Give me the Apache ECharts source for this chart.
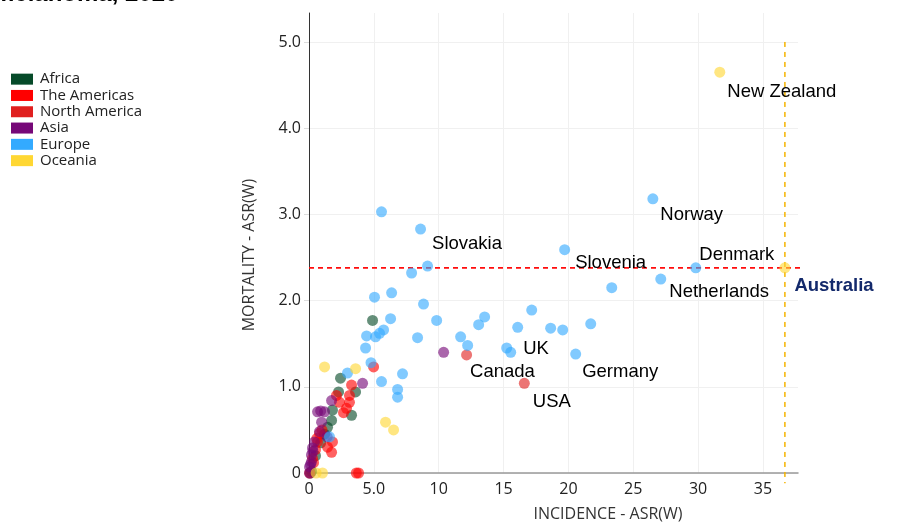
<!DOCTYPE html>
<html>
<head>
<meta charset="utf-8">
<script src="https://cdn.jsdelivr.net/npm/echarts@6/dist/echarts.min.js"></script>
<style>html,body{margin:0;padding:0;background:#fff}#c{width:914px;height:522px}</style>
</head>
<body>
<div id="c"></div>
<script>
// ---- data (incidence ASR(W), mortality ASR(W)) ----
const regions = ['Africa', 'The Americas', 'North America', 'Asia', 'Europe', 'Oceania'];
const africa = [[4.90,1.77],[2.43,1.10],[3.59,0.94],[2.28,0.94],[3.28,0.67],[1.81,0.73],[1.74,0.61],[1.43,0.53],[1.20,0.45],[0.90,0.35],[0.50,0.20],[0.10,0.00],[0.20,0.02]];
const americas = [[4.98,1.23],[3.82,0.00],[3.65,0.00],[3.28,1.02],[3.12,0.90],[2.12,0.90],[3.12,0.82],[2.35,0.82],[2.89,0.75],[2.66,0.70],[0.81,0.46],[1.81,0.36],[1.43,0.30],[1.74,0.24],[0.66,0.36],[0.50,0.27],[0.27,0.17],[0.35,0.12],[1.00,0.50],[0.60,0.40],[0.05,0.00]];
const northAmerica = [];
const asia = [[10.38,1.40],[4.13,1.04],[1.74,0.84],[0.66,0.71],[1.20,0.71],[0.97,0.59],[0.81,0.48],[0.42,0.36],[0.27,0.29],[0.19,0.21],[0.19,0.13],[0.04,0.07],[0.04,0.00],[1.40,0.42],[0.90,0.72],[0.30,0.25],[0.12,0.10]];
const europe = [[5.59,3.03],[9.14,2.40],[7.91,2.32],[5.05,2.04],[6.37,2.09],[8.83,1.96],[6.29,1.79],[9.84,1.77],[4.44,1.59],[5.13,1.58],[5.44,1.62],[5.75,1.66],[8.37,1.57],[4.36,1.45],[11.69,1.58],[12.23,1.48],[13.54,1.81],[13.08,1.72],[17.17,1.89],[18.63,1.68],[19.56,1.66],[21.72,1.73],[23.34,2.15],[15.24,1.45],[15.55,1.40],[4.78,1.28],[5.59,1.06],[7.21,1.15],[6.83,0.97],[6.83,0.88],[2.97,1.16],[1.58,0.42]];
const oceania = [[1.20,1.23],[3.59,1.21],[5.90,0.59],[6.52,0.50],[1.04,0.00],[0.55,0.00]];
// labelled countries: [name, region, incidence, mortality]
const labelled = [
  ['New Zealand', 'Oceania', 31.67, 4.65],
  ['Norway', 'Europe', 26.51, 3.18],
  ['Slovakia', 'Europe', 8.60, 2.83],
  ['Slovenia', 'Europe', 19.71, 2.59],
  ['Denmark', 'Europe', 29.82, 2.38],
  ['Netherlands', 'Europe', 27.12, 2.25],
  ['UK', 'Europe', 16.09, 1.69],
  ['Germany', 'Europe', 20.56, 1.38],
  ['Canada', 'North America', 12.15, 1.37],
  ['USA', 'North America', 16.60, 1.04]
];
const australia = ['Australia', 'Oceania', 36.69, 2.38];
const xTicks = [0, 5, 10, 15, 20, 25, 30, 35];
const yTicks = [0, 1, 2, 3, 4, 5];
const titleText = 'melanoma, 2020';

// ---- styles ----
const colors = {
  'Africa': '#064a29',
  'The Americas': '#ff0000',
  'North America': '#e0201f',
  'Asia': '#760878',
  'Europe': '#33aaff',
  'Oceania': '#ffd733'
};
const pointAlpha = 0.62;
const labelOffsets = {
  'New Zealand': [2, 20], 'Norway': [2, 16], 'Slovakia': [6, 15], 'Slovenia': [5, 13],
  'Denmark': [-2, -13], 'Netherlands': [3, 13], 'UK': [0, 22], 'Germany': [1, 18],
  'Canada': [-2, 17], 'USA': [3, 19], 'Australia': [4, 18]
};
const raw = {
  'Africa': africa, 'The Americas': americas, 'North America': northAmerica,
  'Asia': asia, 'Europe': europe, 'Oceania': oceania
};
const labelFont = 'Liberation Sans, Arial, sans-serif';
function labelledItem(rec, bold) {
  return {
    value: [rec[2], rec[3]], name: rec[0],
    label: {
      show: true, position: 'right', distance: 0, offset: labelOffsets[rec[0]],
      formatter: rec[0], fontFamily: labelFont, fontSize: 18.5, opacity: 1,
      color: bold ? '#13296b' : '#000', fontWeight: bold ? 'bold' : 'normal'
    }
  };
}
const series = regions.map(r => {
  const data = raw[r].map(p => ({ value: p }));
  labelled.filter(l => l[1] === r).forEach(l => data.push(labelledItem(l, false)));
  if (australia[1] === r) data.push(labelledItem(australia, true));
  return {
    name: r, type: 'scatter', data: data, symbolSize: 11,
    itemStyle: { color: colors[r], opacity: pointAlpha },
    emphasis: { disabled: true }, z: 3
  };
});
// Australia reference lines
series.push({
  type: 'line', name: 'refH', data: [[0, australia[3]], [46.8, australia[3]]],
  symbol: 'none', clip: false, silent: true, z: 2,
  lineStyle: { color: '#ff0d0d', width: 1.6, type: [5, 4] }
});
series.push({
  type: 'line', name: 'refV', data: [[australia[2], 5.0], [australia[2], -0.12]],
  symbol: 'none', clip: false, silent: true, z: 2,
  lineStyle: { color: '#f5b400', width: 1.5, type: [5, 5] }
});

const chart = echarts.init(document.getElementById('c'), null, { renderer: 'canvas' });
const tickFont = 'Open Sans, Noto Sans, sans-serif';
chart.setOption({
  animation: false,
  backgroundColor: '#fff',
  title: {
    text: titleText, left: -7, top: -18, padding: 0,
    textStyle: { fontFamily: labelFont, fontSize: 24, fontWeight: 'bold', color: '#000' }
  },
  legend: {
    data: regions, orient: 'vertical', left: 11, top: 71, padding: 0,
    icon: 'rect', itemWidth: 22, itemHeight: 11, itemGap: 0,
    itemStyle: { opacity: 1 },
    textStyle: { fontFamily: tickFont, fontSize: 15, color: '#222', lineHeight: 16.3, padding: [0, 0, 0, 2] },
    selectedMode: false
  },
  grid: { left: 309, right: 116, top: 13, bottom: 49, containLabel: false, outerBoundsMode: 'none' },
  xAxis: {
    type: 'value', min: xTicks[0], max: 37.7, interval: xTicks[1] - xTicks[0],
    name: 'INCIDENCE - ASR(W)', nameLocation: 'middle', nameGap: 33,
    nameTextStyle: { fontFamily: tickFont, fontSize: 16, color: '#333', padding: [0, 0, 0, 109] },
    axisLine: { show: true, lineStyle: { color: '#999', width: 1.5 } },
    axisTick: { show: false },
    axisLabel: {
      fontFamily: tickFont, fontSize: 16, color: '#222', margin: 8, showMaxLabel: false,
      formatter: v => (xTicks.indexOf(v) < 0 ? '' : (v === 0 ? '0' : (v < 10 ? v.toFixed(1) : String(v))))
    },
    splitLine: { show: true, showMaxLine: false, lineStyle: { color: '#f0f0f0', width: 1 } }
  },
  yAxis: {
    type: 'value', min: yTicks[0], max: 5.336, interval: yTicks[1] - yTicks[0],
    name: 'MORTALITY - ASR(W)', nameLocation: 'middle', nameGap: 52,
    nameTextStyle: { fontFamily: tickFont, fontSize: 16, color: '#333', padding: [0, 24, 0, 0] },
    axisLine: { show: true, lineStyle: { color: '#333', width: 1 } },
    axisTick: { show: true, length: 5, lineStyle: { color: '#ddd' } },
    axisLabel: {
      fontFamily: tickFont, fontSize: 16, color: '#222', margin: 8, showMaxLabel: false,
      formatter: v => (yTicks.indexOf(v) < 0 ? '' : (v === 0 ? '0' : v.toFixed(1)))
    },
    splitLine: { show: true, showMaxLine: false, lineStyle: { color: '#f0f0f0', width: 1 } }
  },
  series: series
});
</script>
</body>
</html>
